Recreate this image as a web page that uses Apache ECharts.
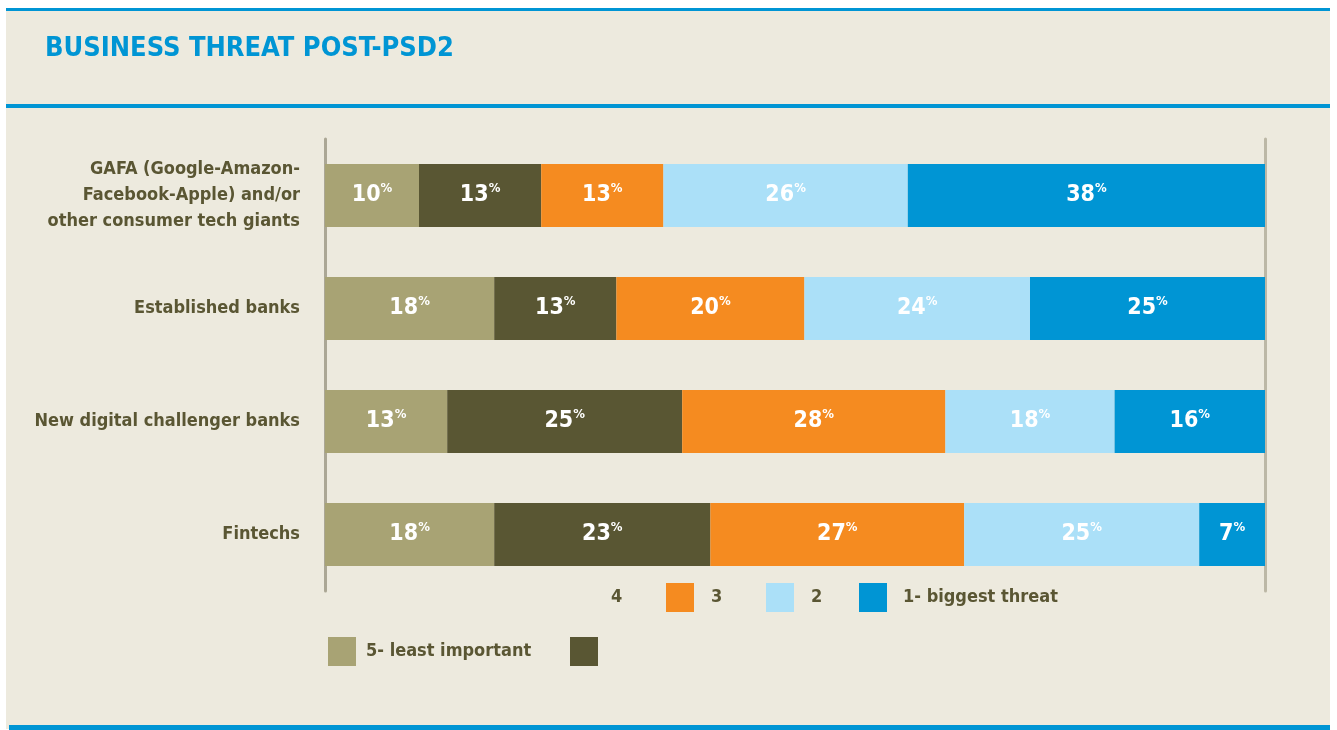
<!DOCTYPE html>
<html>
<head>
<meta charset="utf-8">
<title>Business threat post-PSD2</title>
<script src="https://cdn.jsdelivr.net/npm/echarts@6/dist/echarts.min.js"></script>
<style>
  html, body { margin: 0; padding: 0; background: #ffffff; }
  #chart { width: 1337px; height: 730px; }
</style>
</head>
<body>
<div id="chart"></div>
<script>
// categories, top to bottom
const categories = [
  'GAFA (Google-Amazon-\nFacebook-Apple) and/or\nother consumer tech giants',
  'Established banks',
  'New digital challenger banks',
  'Fintechs'
];

// share of answers per rank (%)
const leastImportant = [10, 18, 13, 18];
const rank4 = [13, 13, 25, 23];
const rank3 = [13, 20, 28, 27];
const rank2 = [26, 24, 18, 25];
const biggestThreat = [38, 25, 16, 7];

const seriesNames = ['5- least important', '4', '3', '2', '1- biggest threat'];
const seriesColors = ['#a8a374', '#595633', '#f58b20', '#abe0f8', '#0095d4'];
const seriesData = [leastImportant, rank4, rank3, rank2, biggestThreat];

const FONT = '"DejaVu Sans Condensed", "Liberation Sans Narrow", "Roboto", sans-serif';
const TEXT_COLOR = '#5a5633';
const BLUE = '#0095d4';

const chart = echarts.init(document.getElementById('chart'));

const series = seriesNames.map((name, i) => ({
  name: name,
  type: 'bar',
  stack: 'total',
  barWidth: 63,
  itemStyle: { color: seriesColors[i] },
  label: {
    show: true,
    position: 'inside',
    formatter: p => '{n|' + p.value + '}{p|%}',
    rich: {
      n: { fontFamily: FONT, fontWeight: 'bold', fontSize: 23, color: '#ffffff', lineHeight: 26 },
      p: { fontFamily: FONT, fontWeight: 'bold', fontSize: 13, color: '#ffffff', lineHeight: 26, verticalAlign: 'top', padding: [0, 0, 8, 0] }
    }
  },
  data: seriesData[i]
}));

// legend pieces, placed the way the original lays them out (legend padding is 5)
const legendText = { fontFamily: FONT, fontWeight: 'bold', fontSize: 18, color: TEXT_COLOR };
const legendItem = (name, left, top, opts) => Object.assign({
  data: [name],
  left: left - 5,
  top: top - 5,
  itemWidth: 28,
  itemHeight: 29,
  icon: 'rect',
  textStyle: Object.assign({}, legendText)
}, opts || {});
const padText = n => Object.assign({}, legendText, { padding: [0, 0, 0, n] });

const option = {
  backgroundColor: '#ffffff',
  animation: false,
  title: {
    text: 'BUSINESS THREAT POST-PSD2',
    left: 40,
    top: 30,
    textStyle: { fontFamily: FONT, fontWeight: 'bold', fontSize: 27, color: BLUE }
  },
  graphic: [
    { type: 'rect', z: -10, shape: { x: 6, y: 10, width: 1324, height: 719 }, style: { fill: '#edeade' } },
    { type: 'rect', z: -9, shape: { x: 6, y: 8, width: 1324, height: 3 }, style: { fill: BLUE } },
    { type: 'rect', z: -9, shape: { x: 6, y: 104, width: 1324, height: 4 }, style: { fill: BLUE } },
    { type: 'rect', z: -9, shape: { x: 9, y: 725, width: 1321, height: 5 }, style: { fill: BLUE } }
  ],
  legend: [
    legendItem('4', 583, 583, { icon: 'none', itemWidth: 1, textStyle: padText(22) }),
    legendItem('3', 666, 583, { textStyle: padText(12) }),
    legendItem('2', 766, 583, { textStyle: padText(12) }),
    legendItem('1- biggest threat', 859, 583, { textStyle: padText(11) }),
    legendItem('5- least important', 328, 637, { textStyle: padText(5) }),
    legendItem('4', 570, 637, { formatter: () => '' })
  ],
  grid: {
    left: 325,
    right: 72,
    top: 139,
    bottom: 139,
    outerBoundsMode: 'none'
  },
  xAxis: {
    type: 'value',
    min: 0,
    max: 100,
    show: false
  },
  yAxis: [
    {
      type: 'category',
      inverse: true,
      data: categories,
      axisTick: { show: false },
      axisLine: { show: true, lineStyle: { color: '#aba795', width: 3 } },
      axisLabel: {
        margin: 25,
        fontFamily: FONT,
        fontWeight: 'bold',
        fontSize: 18,
        lineHeight: 26,
        color: TEXT_COLOR,
        align: 'right'
      }
    },
    {
      type: 'category',
      inverse: true,
      position: 'right',
      data: categories,
      axisTick: { show: false },
      axisLabel: { show: false },
      axisLine: { show: true, lineStyle: { color: '#bcb8a6', width: 3 } }
    }
  ],
  series: series
};

chart.setOption(option);
</script>
</body>
</html>
